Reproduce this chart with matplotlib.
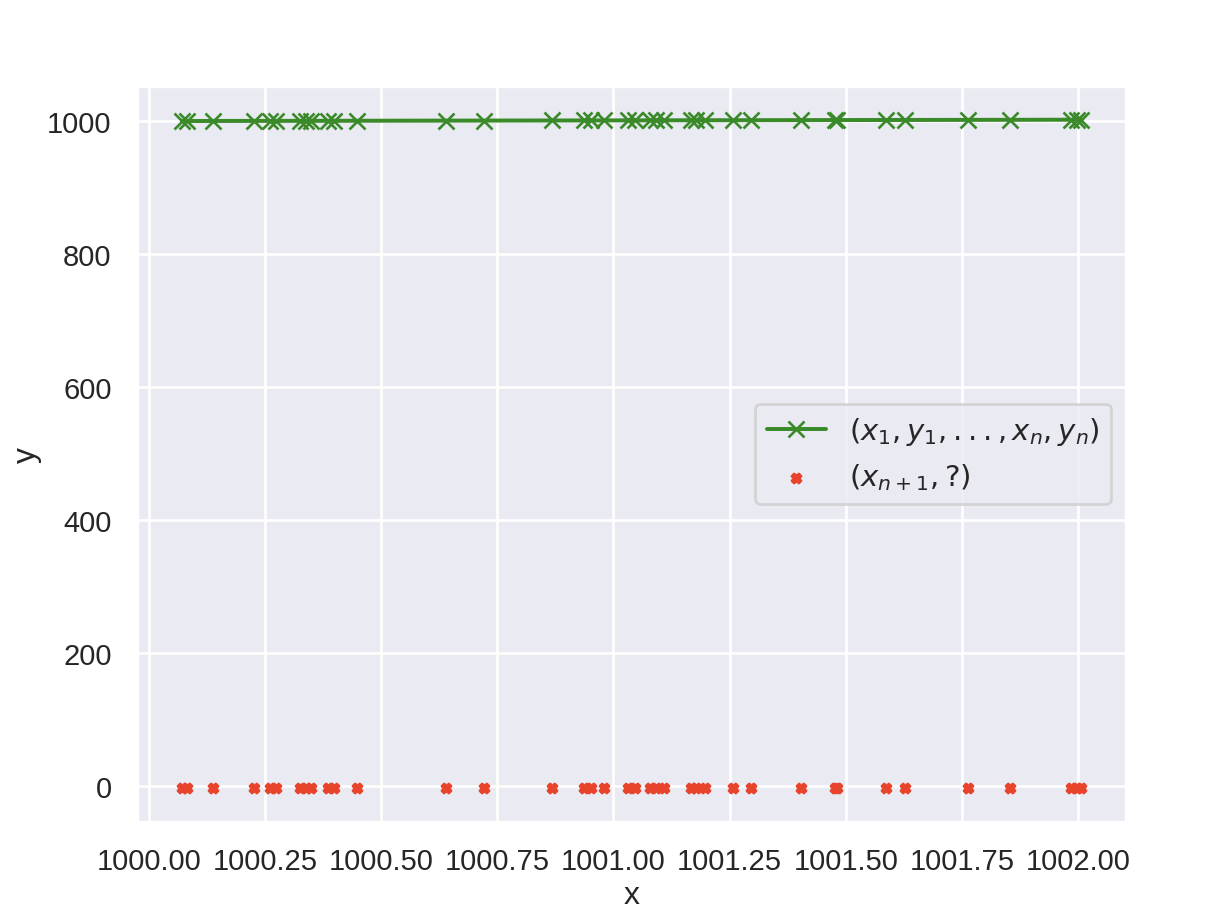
import matplotlib
matplotlib.use("Agg")
import matplotlib.pyplot as plt
import seaborn as sns

sns.set_theme(style="darkgrid")
plt.rcParams['font.family'] = ['Liberation Sans', 'DejaVu Sans']
plt.rcParams['mathtext.fontset'] = 'dejavusans'

x_known = [1000.071, 1000.082, 1000.139, 1000.227, 1000.260, 1000.273, 1000.326, 1000.339,
           1000.350, 1000.386, 1000.399, 1000.448, 1000.639, 1000.721, 1000.867, 1000.936,
           1000.951, 1000.979, 1001.032, 1001.047, 1001.079, 1001.092, 1001.109, 1001.167,
           1001.178, 1001.197, 1001.258, 1001.296, 1001.403, 1001.476, 1001.481, 1001.586,
           1001.627, 1001.764, 1001.854, 1001.985, 1001.998, 1002.006]
y_known = list(x_known)
y_unknown = [-3] * len(x_known)

fig = plt.figure(figsize=(6.4, 4.8), dpi=191)
ax = fig.add_axes([0.112, 0.103, 0.809, 0.802])
ax.plot(x_known, y_known, color="#3a8a2a", marker="x", label=r"$(x_1, y_1, ..., x_n, y_n)$")
ax.scatter(x_known, y_unknown, color="#e8432b", marker="X", s=12, label=r"$(x_{n+1}, ?)$")
ax.set_xlabel("x", labelpad=2)
ax.set_ylabel("y", labelpad=2)
ax.tick_params(labelsize=11)
ax.legend(loc="center right", fontsize=11)
fig.savefig("out.png")
